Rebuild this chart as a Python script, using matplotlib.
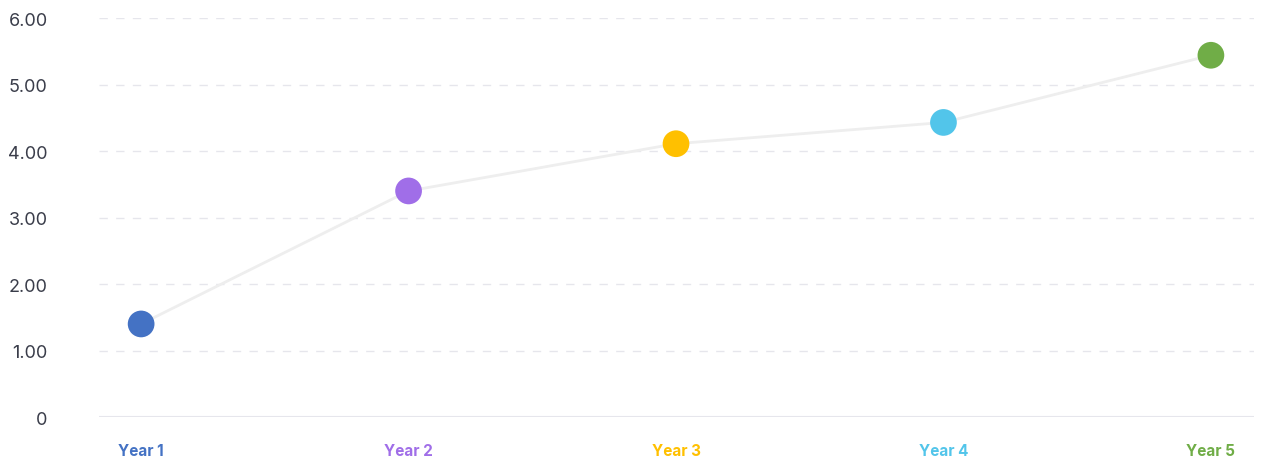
import matplotlib
matplotlib.use("Agg")
import matplotlib.pyplot as plt

years = ["Year 1", "Year 2", "Year 3", "Year 4", "Year 5"]
values = [1.40, 3.40, 4.11, 4.43, 5.44]
colors = ["#4472C4", "#A06EE8", "#FFC000", "#52C5EA", "#70AD47"]
yticks = [0, 1, 2, 3, 4, 5, 6]
ylabels = ["0", "1.00", "2.00", "3.00", "4.00", "5.00", "6.00"]

plt.rcParams["font.family"] = ["Inter", "DejaVu Sans"]

fig = plt.figure(figsize=(12.71, 4.64), dpi=100)
ax = fig.add_axes([0.078, 0.099, 0.9086, 0.86])

xs = list(range(len(years)))
ax.plot(xs, values, color="#EEEEEE", linewidth=2, zorder=2)
ax.scatter(xs, values, s=370, c=colors, zorder=3, linewidths=0)

for y in yticks[1:]:
    ax.axhline(y, color="#E6E6EC", linewidth=1, dashes=(6, 6), zorder=1)
ax.axhline(0, color="#E6E6EC", linewidth=1.5, zorder=1)

ax.set_xlim(-0.157, 4.161)
ax.set_ylim(0, 6)
ax.set_yticks(yticks)
ax.set_yticklabels(ylabels, fontsize=13, color="#3A3D4A")
ax.set_xticks(xs)
ax.set_xticklabels(years, fontsize=11, fontweight="bold")
for lbl, c in zip(ax.get_xticklabels(), colors):
    lbl.set_color(c)
ax.tick_params(axis="y", length=0, pad=37)
ax.tick_params(axis="x", length=0, pad=19)
for s in ax.spines.values():
    s.set_visible(False)

fig.savefig("out.png", dpi=100)
